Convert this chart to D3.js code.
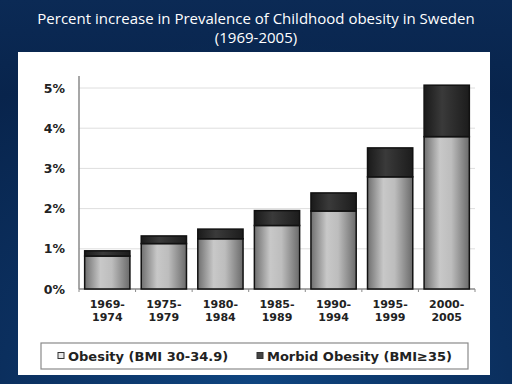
<!DOCTYPE html>
<html>
<head>
<meta charset="utf-8">
<script src="https://cdn.jsdelivr.net/npm/d3@7"></script>
<style>
  body { margin: 0; padding: 0; overflow: hidden; }
  svg { display: block; }
</style>
</head>
<body>
<div id="chart"></div>
<script>
// data
var periods = [["1969-", "1974"], ["1975-", "1979"], ["1980-", "1984"], ["1985-", "1989"],
               ["1990-", "1994"], ["1995-", "1999"], ["2000-", "2005"]];
var obesity = [0.82, 1.13, 1.25, 1.58, 1.94, 2.79, 3.79];
var morbid  = [0.13, 0.19, 0.24, 0.37, 0.45, 0.72, 1.28];
var yTicks = [0, 1, 2, 3, 4, 5];
var seriesNames = ["Obesity (BMI 30-34.9)", "Morbid Obesity (BMI\u226535)"];

var W = 512, H = 384;
var boldFont = "'DejaVu Sans', Verdana, sans-serif";
var svg = d3.select("#chart").append("svg").attr("width", W).attr("height", H);
var defs = svg.append("defs");

// slide background
var bg = defs.append("radialGradient").attr("id", "bg")
  .attr("cx", "50%").attr("cy", "100%").attr("r", "90%");
bg.append("stop").attr("offset", "0%").attr("stop-color", "#0f4580");
bg.append("stop").attr("offset", "55%").attr("stop-color", "#0b2f5e");
bg.append("stop").attr("offset", "100%").attr("stop-color", "#08244c");
svg.append("rect").attr("width", W).attr("height", H).attr("fill", "url(#bg)");
var bg2 = defs.append("linearGradient").attr("id", "bg2")
  .attr("x1", 0).attr("y1", 0).attr("x2", 0).attr("y2", 1);
bg2.append("stop").attr("offset", "0%").attr("stop-color", "#0b2a55").attr("stop-opacity", 1);
bg2.append("stop").attr("offset", "25%").attr("stop-color", "#0b2a55").attr("stop-opacity", 0);
svg.append("rect").attr("width", W).attr("height", H).attr("fill", "url(#bg2)");

// title
var title = svg.append("text").attr("x", W / 2).attr("y", 24)
  .attr("text-anchor", "middle").attr("fill", "#ffffff")
  .style("font-family", "'Open Sans', sans-serif").style("font-size", "15px");
title.append("tspan").attr("x", W / 2).attr("dy", 0)
  .text("Percent increase in Prevalence of Childhood obesity in Sweden");
title.append("tspan").attr("x", W / 2).attr("dy", 19).text("(1969-2005)");

// white panel
svg.append("rect").attr("x", 18).attr("y", 52).attr("width", 472).attr("height", 323)
  .attr("fill", "#ffffff");

// gradients for the bars
function barGrad(id, stops) {
  var g = defs.append("linearGradient").attr("id", id)
    .attr("x1", 0).attr("y1", 0).attr("x2", 1).attr("y2", 0);
  stops.forEach(function(s) {
    g.append("stop").attr("offset", s[0]).attr("stop-color", s[1]);
  });
}
barGrad("gLight", [["0%", "#6f6f6f"], ["35%", "#c8c8c8"], ["60%", "#bdbdbd"], ["100%", "#6a6a6a"]]);
barGrad("gDark", [["0%", "#1a1a1a"], ["40%", "#3a3a3a"], ["100%", "#1c1c1c"]]);

var margin = { left: 79, right: 475, top: 88, bottom: 289 };

var x = d3.scaleBand()
  .domain(d3.range(periods.length))
  .range([margin.left, margin.right])
  .paddingInner(0.2).paddingOuter(0.1);

var y = d3.scaleLinear().domain([0, 5]).range([margin.bottom, margin.top]);

// gridlines
svg.append("g").selectAll("line").data(yTicks.slice(1)).enter().append("line")
  .attr("x1", margin.left).attr("x2", margin.right)
  .attr("y1", function(d) { return y(d); }).attr("y2", function(d) { return y(d); })
  .attr("stroke", "#dedede").attr("stroke-width", 1);

// y axis
var yAxis = d3.axisLeft(y).tickValues(yTicks).tickSize(0).tickPadding(14)
  .tickFormat(function(d) { return d + "%"; });
var gy = svg.append("g").attr("transform", "translate(" + margin.left + ",0)").call(yAxis);
gy.select(".domain").attr("stroke", "#8a8a8a").attr("stroke-width", 1.5)
  .attr("d", "M0," + (margin.top - 12) + "V" + margin.bottom);
gy.selectAll("text").attr("fill", "#222")
  .style("font-family", boldFont)
  .style("font-size", "12.5px").style("font-weight", "bold");

// x axis line and ticks between categories
svg.append("line").attr("x1", margin.left).attr("x2", margin.right)
  .attr("y1", margin.bottom).attr("y2", margin.bottom)
  .attr("stroke", "#8a8a8a").attr("stroke-width", 1.5);
svg.append("g").selectAll("line").data(d3.range(periods.length + 1)).enter().append("line")
  .attr("x1", function(d) { return margin.left + d * (margin.right - margin.left) / periods.length; })
  .attr("x2", function(d) { return margin.left + d * (margin.right - margin.left) / periods.length; })
  .attr("y1", margin.bottom).attr("y2", margin.bottom + 3)
  .attr("stroke", "#8a8a8a");

// stacked bars
var stackData = periods.map(function(p, i) { return { i: i, obesity: obesity[i], morbid: morbid[i] }; });
var stack = d3.stack().keys(["obesity", "morbid"]);
var layers = stack(stackData);
var fills = ["url(#gLight)", "url(#gDark)"];

svg.selectAll("g.layer").data(layers).enter().append("g").attr("class", "layer")
  .attr("fill", function(d, i) { return fills[i]; })
  .selectAll("rect").data(function(d) { return d; }).enter().append("rect")
  .attr("x", function(d) { return x(d.data.i); })
  .attr("width", x.bandwidth())
  .attr("y", function(d) { return y(d[1]); })
  .attr("height", function(d) { return y(d[0]) - y(d[1]); })
  .attr("stroke", "#111").attr("stroke-width", 1.5);

// category labels, two lines each
var labG = svg.append("g").selectAll("g").data(periods).enter().append("g")
  .attr("transform", function(d, i) { return "translate(" + (x(i) + x.bandwidth() / 2) + ",0)"; });
[0, 1].forEach(function(line) {
  labG.append("text")
    .attr("y", 308 + line * 13)
    .attr("text-anchor", "middle").attr("fill", "#222")
    .style("font-family", boldFont)
    .style("font-size", "11px").style("font-weight", "bold")
    .text(function(d) { return d[line]; });
});

// legend
svg.append("rect").attr("x", 41).attr("y", 343).attr("width", 427).attr("height", 26)
  .attr("fill", "#ffffff").attr("stroke", "#8a8a8a").attr("stroke-width", 1.2);
var legX = [58, 257];
var legFill = ["#e6e6e6", "#444"];
var leg = svg.append("g").selectAll("g").data(seriesNames).enter().append("g")
  .attr("transform", function(d, i) { return "translate(" + legX[i] + ",356)"; });
leg.append("rect").attr("x", 0).attr("y", -3.5).attr("width", 6).attr("height", 6)
  .attr("fill", function(d, i) { return legFill[i]; }).attr("stroke", "#333");
leg.append("text").attr("x", 10).attr("y", 5).attr("fill", "#222")
  .style("font-family", boldFont)
  .style("font-size", "13px").style("font-weight", "bold")
  .text(function(d) { return d; });
</script>
</body>
</html>
